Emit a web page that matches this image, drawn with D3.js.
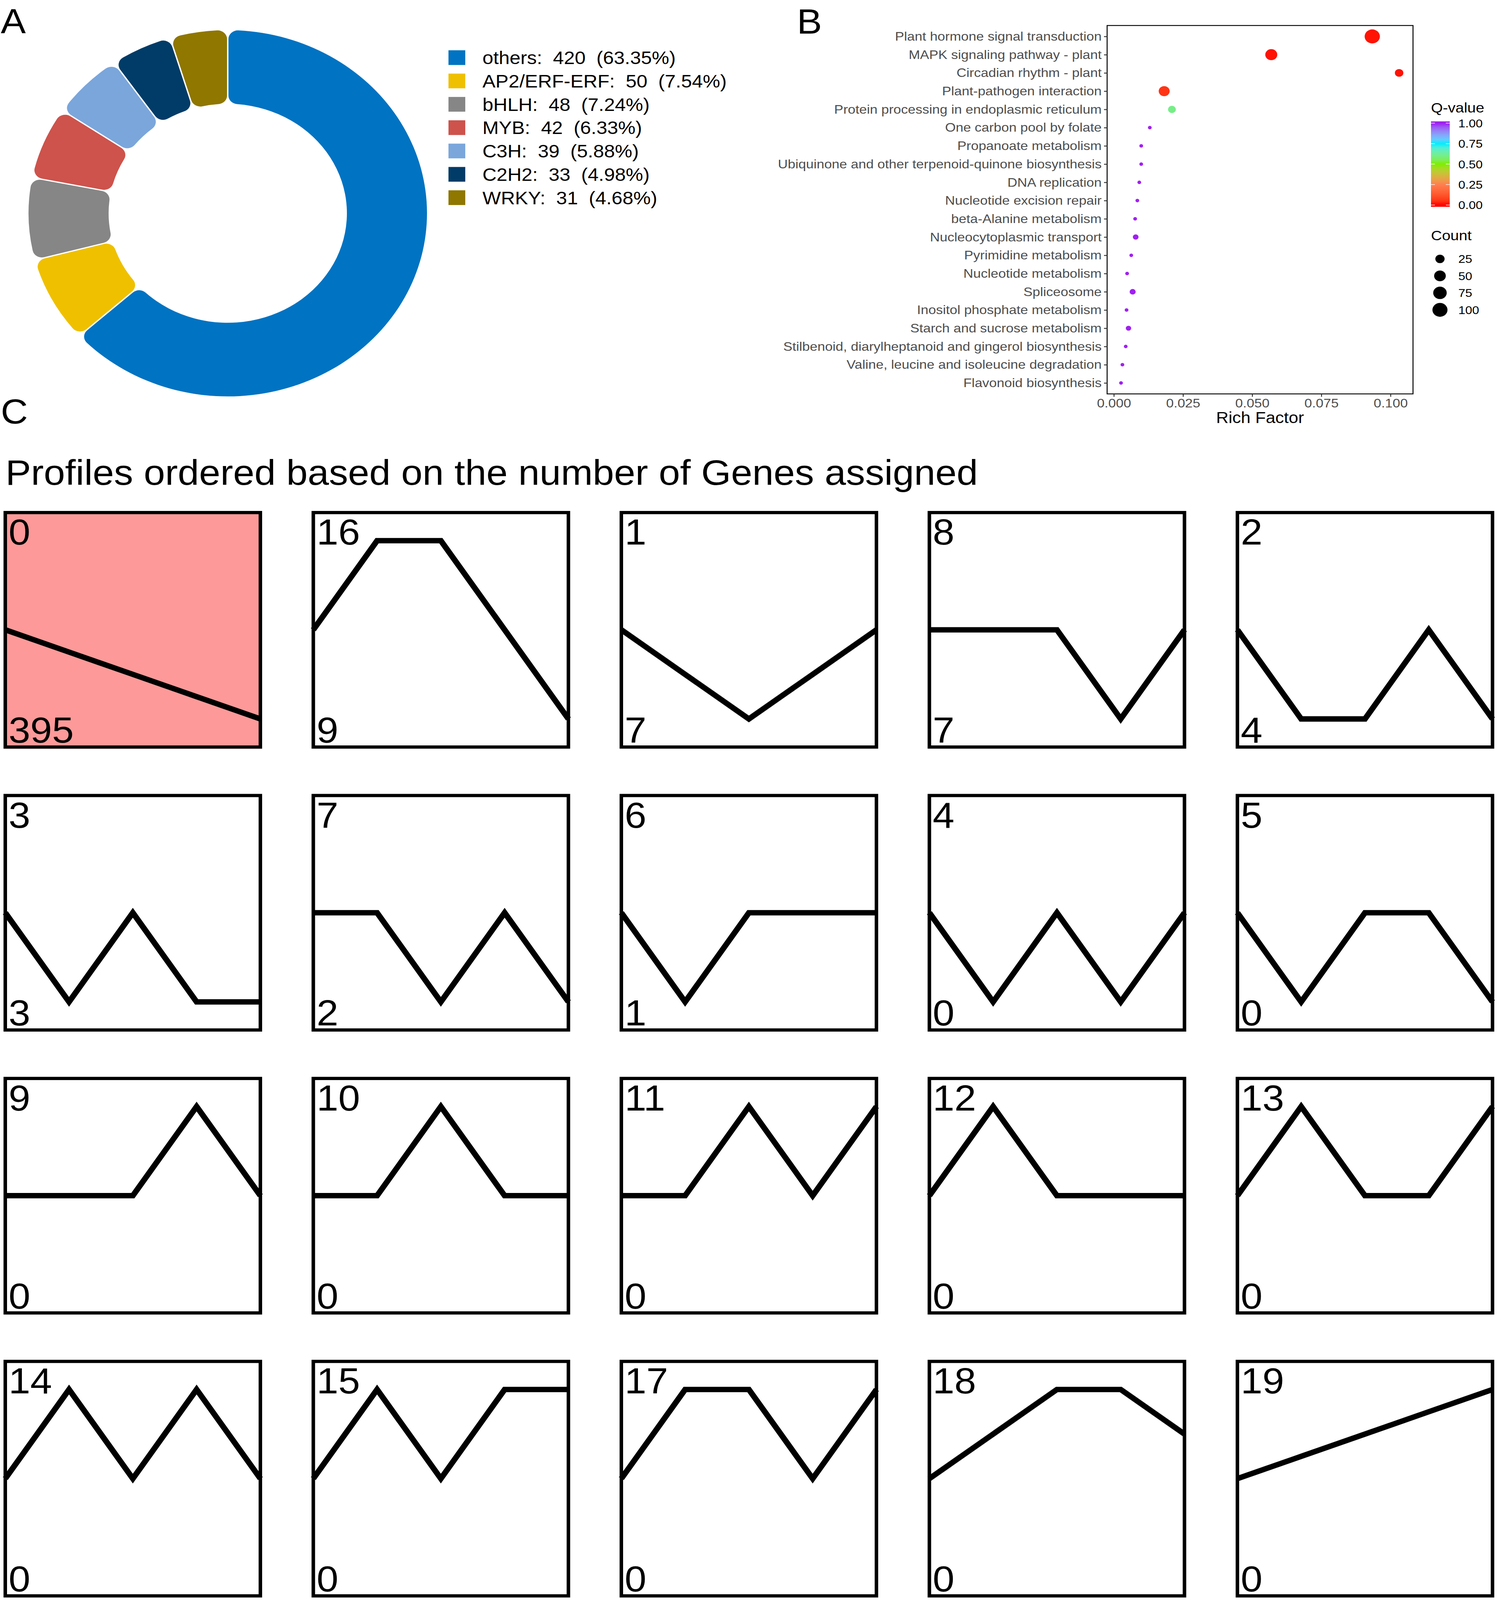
<!DOCTYPE html>
<html>
<head>
<meta charset="utf-8">
<script src="https://cdn.jsdelivr.net/npm/d3@7"></script>
<style>
  html, body { margin: 0; padding: 0; background: #fff; overflow: hidden; }
  svg { display: block; width: 100vw; height: 100vh; }
  text { font-family: "Liberation Sans", Arial, sans-serif; }
</style>
</head>
<body>
<svg id="fig"></svg>
<script>
const W = 3832, H = 4456;

// ---- panel A: transcription factor families
const tfNames = ["others", "AP2/ERF-ERF", "bHLH", "MYB", "C3H", "C2H2", "WRKY"];
const tfCounts = [420, 50, 48, 42, 39, 33, 31];
const tfColors = ["#0073C2", "#EFC000", "#868686", "#CD534C", "#7AA6DC", "#003C67", "#8F7700"];

// ---- panel B: KEGG enrichment
const pathways = [
  "Plant hormone signal transduction",
  "MAPK signaling pathway - plant",
  "Circadian rhythm - plant",
  "Plant-pathogen interaction",
  "Protein processing in endoplasmic reticulum",
  "One carbon pool by folate",
  "Propanoate metabolism",
  "Ubiquinone and other terpenoid-quinone biosynthesis",
  "DNA replication",
  "Nucleotide excision repair",
  "beta-Alanine metabolism",
  "Nucleocytoplasmic transport",
  "Pyrimidine metabolism",
  "Nucleotide metabolism",
  "Spliceosome",
  "Inositol phosphate metabolism",
  "Starch and sucrose metabolism",
  "Stilbenoid, diarylheptanoid and gingerol biosynthesis",
  "Valine, leucine and isoleucine degradation",
  "Flavonoid biosynthesis"
];
const richFactor = [0.0934, 0.0569, 0.1031, 0.0182, 0.0210, 0.0130, 0.0099, 0.0099, 0.0092, 0.0085,
                    0.0077, 0.0079, 0.0063, 0.0048, 0.0068, 0.0046, 0.0053, 0.0043, 0.0031, 0.0026];
const geneCount = [103, 54, 19, 42, 15, 2, 2, 2, 2, 2, 2, 5, 2, 2, 6, 2, 4, 2, 2, 2];
const qValue = [0.01, 0.01, 0.01, 0.05, 0.6, 1, 1, 1, 1, 1, 1, 1, 1, 1, 1, 1, 1, 1, 1, 1];
const rfTicks = [0, 0.025, 0.05, 0.075, 0.1];
const qTicks = [0, 0.25, 0.5, 0.75, 1];
const qColors = ["#FF0000", "#FF7F50", "#7FEE00", "#00EEFF", "#A020F0"];
const countBreaks = [25, 50, 75, 100];

// ---- panel C: STEM profiles
const profileIds = [0, 16, 1, 8, 2, 3, 7, 6, 4, 5, 9, 10, 11, 12, 13, 14, 15, 17, 18, 19];
const profileGenes = [395, 9, 7, 7, 4, 3, 2, 1, 0, 0, 0, 0, 0, 0, 0, 0, 0, 0, 0, 0];
const profileShapes = [
  [0, -1, -2, -3, -4], [0, 1, 1, 0, -1], [0, -1, -2, -1, 0], [0, 0, 0, -1, 0], [0, -1, -1, 0, -1],
  [0, -1, 0, -1, -1], [0, 0, -1, 0, -1], [0, -1, 0, 0, 0], [0, -1, 0, -1, 0], [0, -1, 0, 0, -1],
  [0, 0, 0, 1, 0], [0, 0, 1, 0, 0], [0, 0, 1, 0, 1], [0, 1, 0, 0, 0], [0, 1, 0, 0, 1],
  [0, 1, 0, 1, 0], [0, 1, 0, 1, 1], [0, 1, 1, 0, 1], [0, 1, 2, 2, 1], [0, 1, 2, 3, 4]
];

// drawing space is always 3832 x 4456, stretched onto whatever the window gives
const svg = d3.select("#fig")
  .attr("viewBox", `0 0 ${W} ${H}`)
  .attr("preserveAspectRatio", "none");
svg.append("rect").attr("width", W).attr("height", H).attr("fill", "#fff");

// panel letters
[["A", 2, 92], ["B", 2040, 94], ["C", 2, 1179]].forEach(([t, x, y]) => {
  svg.append("text").attr("x", x).attr("y", y).attr("font-size", 96).text(t);
});

// ================= A: donut =================
const pie = d3.pie().sort(null).value(d => d);
const arc = d3.arc().innerRadius(305).outerRadius(510).cornerRadius(24).padAngle(0.006);
const gA = svg.append("g").attr("transform", "translate(583,594)");
gA.selectAll("path")
  .data(pie(tfCounts))
  .join("path")
  .attr("d", arc)
  .attr("fill", (d, i) => tfColors[i]);

const total = d3.sum(tfCounts);
const pct = d3.format(".2f");
const legA = svg.append("g").attr("transform", "translate(1148,140)");
const rowsA = legA.selectAll("g")
  .data(tfNames)
  .join("g")
  .attr("transform", (d, i) => `translate(0,${i * 65})`);
rowsA.append("rect").attr("width", 43).attr("height", 41).attr("fill", (d, i) => tfColors[i]);
rowsA.append("text")
  .attr("x", 87).attr("y", 20.5).attr("dy", "0.36em")
  .attr("font-size", 50)
  .style("white-space", "pre")
  .text((d, i) => `${d}:  ${tfCounts[i]}  (${pct(tfCounts[i] / total * 100)}%)`);

// ================= B: enrichment dot plot =================
const bx0 = 2834, bx1 = 3617, by0 = 71, by1 = 1097;
const rfExt = d3.extent(richFactor);
const span = rfExt[1] - rfExt[0];
const x = d3.scaleLinear().domain([rfExt[0] - 0.05 * span, rfExt[1] + 0.05 * span]).range([bx0, bx1]);
const y = d3.scalePoint().domain(pathways).range([by0, by1]).padding(0.6);
const color = d3.scaleLinear().domain(qTicks).range(qColors).interpolate(d3.interpolateLab);

const tScale = d3.scaleLinear().domain(d3.extent(geneCount)).range([0, 1]);
const rScale = d3.scaleLinear().domain([0, 1]).range([4.8, 19.5]);
const radius = c => rScale(Math.sqrt(Math.max(0, tScale(c))));

const gB = svg.append("g");
gB.append("rect")
  .attr("x", bx0).attr("y", by0).attr("width", bx1 - bx0).attr("height", by1 - by0)
  .attr("fill", "none").attr("stroke", "#000").attr("stroke-width", 2.5);

const yAxis = gB.append("g")
  .attr("transform", `translate(${bx0},0)`)
  .call(d3.axisLeft(y).tickSize(8).tickPadding(6));
const xAxis = gB.append("g")
  .attr("transform", `translate(0,${by1})`)
  .call(d3.axisBottom(x).tickValues(rfTicks).tickFormat(d3.format(".3f")).tickSize(8).tickPadding(5));
[yAxis, xAxis].forEach(a => {
  a.select(".domain").remove();
  a.selectAll(".tick line").attr("stroke", "#333").attr("stroke-width", 2.5);
  a.selectAll(".tick text").attr("font-size", 35).attr("fill", "#4D4D4D")
    .attr("font-family", "Liberation Sans, Arial, sans-serif");
});

gB.append("text")
  .attr("x", (bx0 + bx1) / 2).attr("y", 1178)
  .attr("text-anchor", "middle").attr("font-size", 44)
  .text("Rich Factor");

gB.selectAll("circle.dot")
  .data(pathways)
  .join("circle")
  .attr("class", "dot")
  .attr("cx", (d, i) => x(richFactor[i]))
  .attr("cy", d => y(d))
  .attr("r", (d, i) => radius(geneCount[i]))
  .attr("fill", (d, i) => color(qValue[i]));

// colour bar legend
const lx = 3663;
svg.append("text").attr("x", lx).attr("y", 313).attr("font-size", 39).text("Q-value");
const qBar = d3.scaleLinear().domain([0, 1]).range([571, 343]);
const grad = svg.append("defs").append("linearGradient")
  .attr("id", "qgrad").attr("gradientUnits", "userSpaceOnUse")
  .attr("x1", 0).attr("x2", 0).attr("y1", qBar(0)).attr("y2", qBar(1));
d3.range(0, 1.0001, 0.05).forEach(v => {
  grad.append("stop").attr("offset", v).attr("stop-color", color(v));
});
svg.append("rect").attr("x", lx).attr("y", 338).attr("width", 48).attr("height", 238)
  .attr("fill", "url(#qgrad)");
const qTickG = svg.append("g");
qTicks.forEach(v => {
  qTickG.append("line").attr("x1", lx).attr("x2", lx + 10).attr("y1", qBar(v)).attr("y2", qBar(v))
    .attr("stroke", "#fff").attr("stroke-width", 1.5);
  qTickG.append("line").attr("x1", lx + 38).attr("x2", lx + 48).attr("y1", qBar(v)).attr("y2", qBar(v))
    .attr("stroke", "#fff").attr("stroke-width", 1.5);
  qTickG.append("text").attr("x", 3733).attr("y", qBar(v)).attr("dy", "0.36em")
    .attr("font-size", 32).text(d3.format(".2f")(v));
});

// size legend
svg.append("text").attr("x", lx).attr("y", 669).attr("font-size", 39).text("Count");
const sizeG = svg.append("g").selectAll("g")
  .data(countBreaks)
  .join("g")
  .attr("transform", (d, i) => `translate(0,${721 + i * 47.3})`);
sizeG.append("circle").attr("cx", 3686).attr("r", d => radius(d)).attr("fill", "#000");
sizeG.append("text").attr("x", 3733).attr("dy", "0.36em").attr("font-size", 32).text(d => d);

// ================= C: profiles =================
svg.append("text").attr("x", 14).attr("y", 1350).attr("font-size", 98)
  .text("Profiles ordered based on the number of Genes assigned");

const box = 662, colPitch = 788.5, rowPitch = 788, gx0 = 9, gy0 = 1423, bw = 9;
const line = d3.line();
profileIds.forEach((id, i) => {
  const col = i % 5, row = Math.floor(i / 5);
  const x0 = gx0 + col * colPitch, y0 = gy0 + row * rowPitch;
  const shape = profileShapes[i];
  const m = d3.max(shape, v => Math.abs(v));
  const px = d3.scaleLinear().domain([0, shape.length - 1]).range([x0 + bw / 2, x0 + box - bw / 2]);
  const py = d3.scaleLinear().domain([-m, m]).range([y0 + 0.875 * box, y0 + 0.125 * box]);
  const g = svg.append("g");
  g.append("rect").attr("x", x0).attr("y", y0).attr("width", box).attr("height", box)
    .attr("fill", i === 0 ? "#FD9999" : "#fff");
  g.append("path")
    .attr("d", line(shape.map((v, k) => [px(k), py(v)])))
    .attr("fill", "none").attr("stroke", "#000").attr("stroke-width", 15)
    .attr("stroke-linejoin", "miter");
  g.append("rect").attr("x", x0 + bw / 2).attr("y", y0 + bw / 2)
    .attr("width", box - bw).attr("height", box - bw)
    .attr("fill", "none").attr("stroke", "#000").attr("stroke-width", bw);
  g.append("text").attr("x", x0 + 13).attr("y", y0 + 94).attr("font-size", 100).text(id);
  g.append("text").attr("x", x0 + 13).attr("y", y0 + 645).attr("font-size", 100).text(profileGenes[i]);
});
</script>
</body>
</html>
